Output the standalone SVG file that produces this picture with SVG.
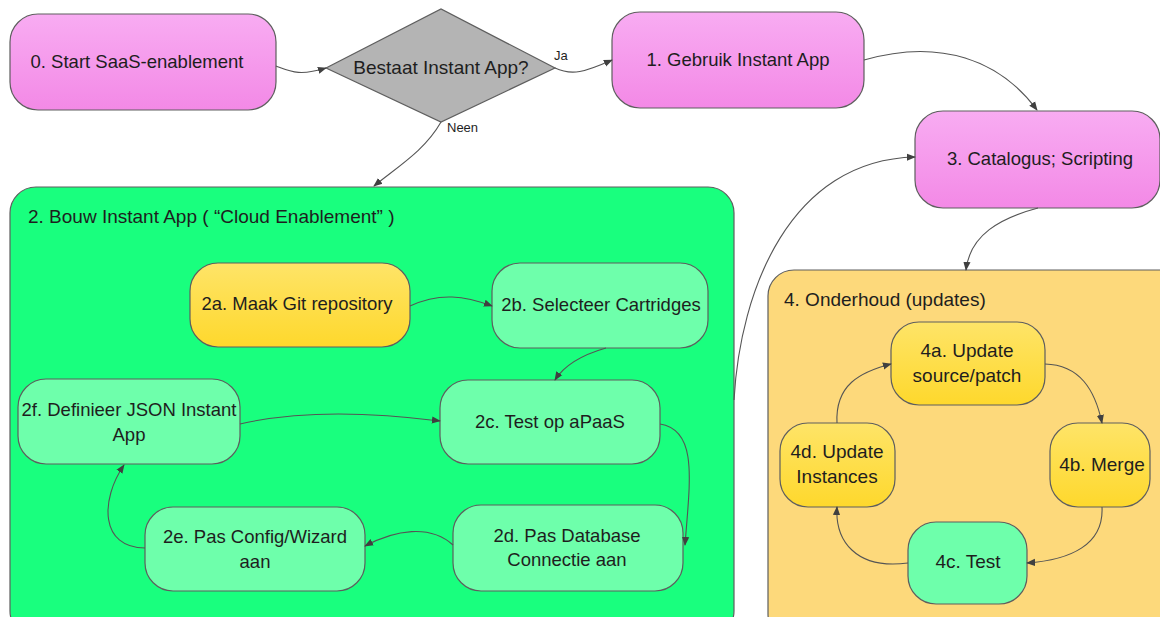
<svg xmlns="http://www.w3.org/2000/svg" width="1160" height="617" viewBox="0 0 1160 617">
  <defs>
    <linearGradient id="pink" x1="0" y1="0" x2="0" y2="1">
      <stop offset="0" stop-color="#f8acf2"/>
      <stop offset="1" stop-color="#f389e6"/>
    </linearGradient>
    <linearGradient id="yellow" x1="0" y1="0" x2="0" y2="1">
      <stop offset="0" stop-color="#fee468"/>
      <stop offset="1" stop-color="#fed82c"/>
    </linearGradient>
    <marker id="arrow" viewBox="0 0 10 10" refX="9" refY="5" markerWidth="9" markerHeight="9" markerUnits="userSpaceOnUse" orient="auto">
      <path d="M0,1 L10,5 L0,9 Z" fill="#404040"/>
    </marker>
    <style>
      .node { stroke: #5e5e5e; stroke-width: 1.2; }
      .pink { fill: url(#pink); }
      .yellow { fill: url(#yellow); }
      .mint { fill: #6effab; }
      .lbl { font-family: "Liberation Sans", Arial, sans-serif; font-size: 18.5px; fill: #1e1e1e; text-anchor: middle; }
      .glbl { font-family: "Liberation Sans", Arial, sans-serif; font-size: 19px; fill: #1e1e1e; }
      .small { font-family: "Liberation Sans", Arial, sans-serif; font-size: 13px; fill: #1e1e1e; }
      .conn path { fill: none; stroke: #555; stroke-width: 1.1; marker-end: url(#arrow); }
    </style>
  </defs>

  <rect width="1160" height="617" fill="#ffffff"/>

  <!-- containers -->
  <g id="group-2">
    <rect class="node" x="10" y="187" width="724" height="450" rx="26" fill="#19ff7e"/>
    <text class="glbl" x="28" y="223">2. Bouw Instant App ( “Cloud Enablement” )</text>
  </g>
  <g id="group-4">
    <rect class="node" x="768" y="270" width="420" height="370" rx="26" fill="#fdd97b"/>
    <text class="glbl" x="784" y="306">4. Onderhoud (updates)</text>
  </g>

  <!-- top row -->
  <g id="n0">
    <rect class="node pink" x="10" y="14" width="266" height="96" rx="28"/>
    <text class="lbl" x="137" y="68">0. Start SaaS-enablement</text>
  </g>
  <g id="decision">
    <polygon class="node" points="326,68 441,9 555,68 441,122" fill="#b4b4b4"/>
    <text class="lbl" x="441" y="74" style="font-size:19px">Bestaat Instant App?</text>
  </g>
  <g id="n1">
    <rect class="node pink" x="612" y="12" width="252" height="96" rx="28"/>
    <text class="lbl" x="738" y="66">1. Gebruik Instant App</text>
  </g>
  <g id="n3">
    <rect class="node pink" x="915" y="111" width="245" height="97" rx="28"/>
    <text class="lbl" x="1040" y="165">3. Catalogus; Scripting</text>
  </g>

  <!-- build steps -->
  <g id="n2a">
    <rect class="node yellow" x="190" y="263" width="220" height="84" rx="28"/>
    <text class="lbl" x="297" y="310">2a. Maak Git repository</text>
  </g>
  <g id="n2b">
    <rect class="node mint" x="492" y="263" width="216" height="85" rx="28"/>
    <text class="lbl" x="601" y="311">2b. Selecteer Cartridges</text>
  </g>
  <g id="n2c">
    <rect class="node mint" x="440" y="380" width="220" height="84" rx="28"/>
    <text class="lbl" x="550" y="428">2c. Test op aPaaS</text>
  </g>
  <g id="n2f">
    <rect class="node mint" x="18" y="379" width="222" height="85" rx="28"/>
    <text class="lbl" x="129" y="416">2f. Definieer JSON Instant</text>
    <text class="lbl" x="129" y="441">App</text>
  </g>
  <g id="n2e">
    <rect class="node mint" x="145" y="507" width="220" height="84" rx="28"/>
    <text class="lbl" x="255" y="543">2e. Pas Config/Wizard</text>
    <text class="lbl" x="255" y="568">aan</text>
  </g>
  <g id="n2d">
    <rect class="node mint" x="453" y="505" width="230" height="86" rx="28"/>
    <text class="lbl" x="567" y="542">2d. Pas Database</text>
    <text class="lbl" x="567" y="566">Connectie aan</text>
  </g>

  <!-- maintenance steps -->
  <g id="n4a">
    <rect class="node yellow" x="891" y="322" width="154" height="83" rx="28"/>
    <text class="lbl" x="967" y="357" style="font-size:19px">4a. Update</text>
    <text class="lbl" x="967" y="382" style="font-size:19px">source/patch</text>
  </g>
  <g id="n4b">
    <rect class="node yellow" x="1050" y="423" width="100" height="84" rx="28"/>
    <text class="lbl" x="1102" y="471" style="font-size:19px">4b. Merge</text>
  </g>
  <g id="n4c">
    <rect class="node mint" x="908" y="522" width="119" height="82" rx="28"/>
    <text class="lbl" x="968" y="568" style="font-size:19px">4c. Test</text>
  </g>
  <g id="n4d">
    <rect class="node yellow" x="780" y="423" width="115" height="84" rx="28"/>
    <text class="lbl" x="837" y="458" style="font-size:19px">4d. Update</text>
    <text class="lbl" x="837" y="483" style="font-size:19px">Instances</text>
  </g>

  <!-- connectors -->
  <g id="connectors" class="conn">
    <path d="M276,66 C292,72 300,76 326,68"/>
    <path d="M555,68 C572,76 585,72 612,60"/>
    <path d="M441,122 C425,150 400,165 374,186"/>
    <path d="M864,60 C940,38 1000,60 1037,110"/>
    <path d="M734,400 C740,290 790,160 915,157"/>
    <path d="M1038,208 C1000,218 970,235 966,270"/>
    <path d="M410,306 C440,292 465,296 492,306"/>
    <path d="M606,348 C585,354 565,364 555,380"/>
    <path d="M240,424 C300,410 370,412 440,421"/>
    <path d="M660,424 C698,430 690,480 685,545"/>
    <path d="M453,545 C430,524 395,530 365,546"/>
    <path d="M145,548 C100,548 100,500 124,465"/>
    <path d="M1045,364 C1080,365 1095,390 1102,423"/>
    <path d="M1102,507 C1104,545 1070,560 1027,563"/>
    <path d="M908,563 C855,570 835,540 837,507"/>
    <path d="M837,423 C835,385 860,372 891,364"/>
  </g>

  <!-- connector labels -->
  <text class="small" x="554" y="60">Ja</text>
  <text class="small" x="447" y="132">Neen</text>
</svg>
